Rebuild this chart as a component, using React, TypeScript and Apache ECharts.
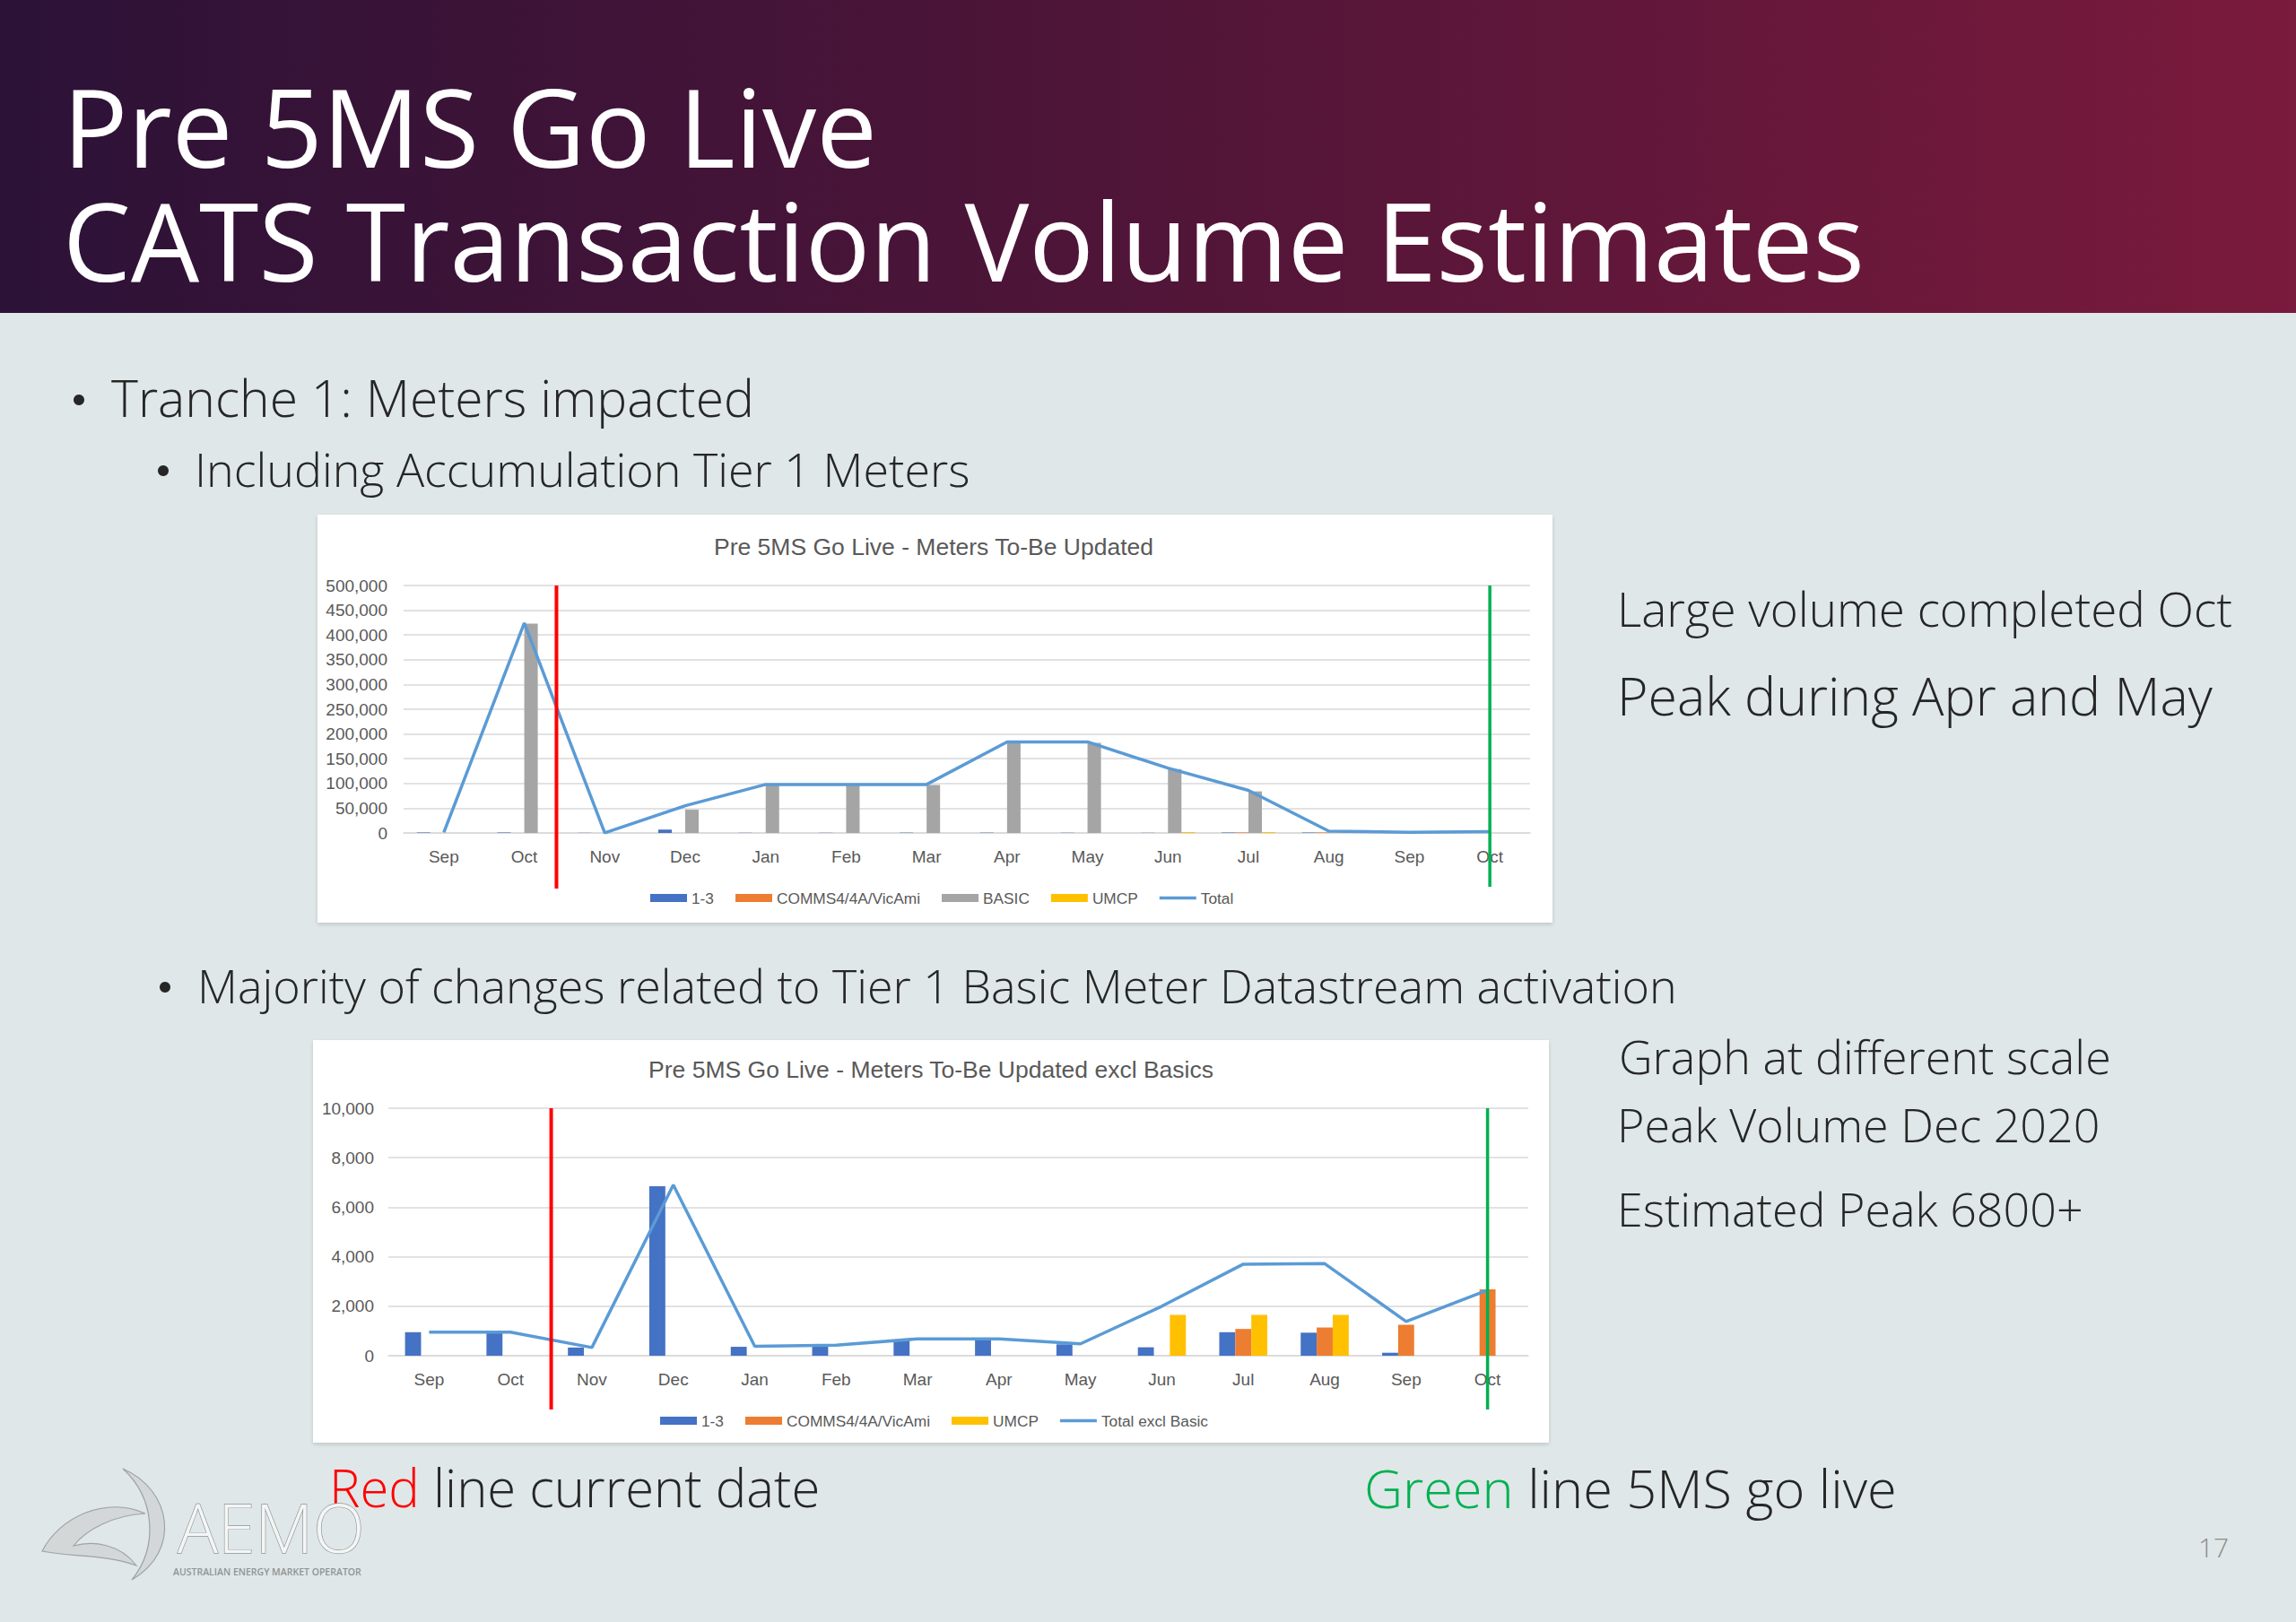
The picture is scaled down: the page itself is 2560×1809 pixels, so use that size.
import React, { useEffect, useRef } from "react";
import * as echarts from "echarts";

// ---------------- data ----------------
const months = ["Sep", "Oct", "Nov", "Dec", "Jan", "Feb", "Mar", "Apr", "May", "Jun", "Jul", "Aug", "Sep", "Oct"];

const tier13 = [950, 950, 330, 6850, 360, 400, 640, 640, 460, 340, 950, 930, 120, 0];
const comms = [0, 0, 0, 0, 0, 0, 0, 0, 0, 0, 1080, 1140, 1250, 2680];
const umcp = [0, 0, 0, 0, 0, 0, 0, 0, 0, 1650, 1650, 1650, 0, 0];
const basic = [0, 423000, 0, 47000, 97000, 97000, 97000, 182000, 182000, 129000, 84000, 0, 0, 0];
const total = [950, 424000, 330, 55000, 98000, 98000, 98000, 184000, 184000, 131000, 86000, 3700, 1400, 2650];
const totalExclBasic = [950, 950, 330, 6900, 380, 430, 680, 680, 480, 2000, 3700, 3720, 1380, 2650];

const y1Min = 0, y1Max = 500000, y1Step = 50000;
const y2Min = 0, y2Max = 10000, y2Step = 2000;

// marker positions (in category units)
const currentDate1 = 1.4;
const currentDate2 = 1.5;
const goLive = 13;

const chart1Title = "Pre 5MS Go Live - Meters To-Be Updated";
const chart2Title = "Pre 5MS Go Live - Meters To-Be Updated excl Basics";
const legend1 = ["1-3", "COMMS4/4A/VicAmi", "BASIC", "UMCP", "Total"];
const legend2 = ["1-3", "COMMS4/4A/VicAmi", "UMCP", "Total excl Basic"];

// ---------------- style ----------------
const W = 2560, H = 1809;
const C13 = "#4472c4", CCOMMS = "#ed7d31", CBASIC = "#a5a5a5", CUMCP = "#ffc000", CTOTAL = "#5b9bd5";
const FF_BODY = '"Open Sans", "Noto Sans", sans-serif';
const FF_CHART = '"Liberation Sans Narrow", "Liberation Sans", Arial, sans-serif';
const TXT = "#262626";
const AX = "#595959";
const GRID = "#d9d9d9";
const LINE_ICON = "path://M0,0L41,0L41,3.5L0,3.5Z";

const fmt = (v: number) => v.toLocaleString("en-US");

function txt(id: string, text: string, x: number, y: number, size: number, extra: any = {}) {
  return {
    type: "text", id, x, y, z: 5,
    style: {
      text, fontSize: size, fontFamily: FF_BODY, fontWeight: 300, fill: TXT,
      align: "left", verticalAlign: "middle", ...extra,
    },
  };
}

function dot(id: string, cx: number, cy: number) {
  return { type: "circle", id, z: 5, shape: { cx, cy, r: 6 }, style: { fill: TXT } };
}

echarts.graphic.registerShape(
  "aemoCrescent",
  echarts.graphic.extendPath("M 137 1638 C 192 1662 202 1730 147 1762 C 176 1726 174 1672 137 1638 Z", {})
);
echarts.graphic.registerShape(
  "aemoWing",
  echarts.graphic.extendPath(
    "M 47 1730 C 66 1692 118 1668 162 1688 C 126 1690 96 1706 82 1724 C 104 1718 134 1722 152 1746 C 116 1733 80 1737 47 1730 Z",
    {}
  )
);

function baseGraphic(): any[] {
  return [
    {
      type: "rect", id: "header", z: -20, shape: { x: 0, y: 0, width: W, height: 349 },
      style: {
        fill: new echarts.graphic.LinearGradient(0, 0, 1, 0, [
          { offset: 0, color: "#2c1237" },
          { offset: 0.5, color: "#501538" },
          { offset: 1, color: "#7a1a3c" },
        ]),
      },
    },
    {
      type: "rect", id: "box1", z: -10, shape: { x: 354, y: 574, width: 1377, height: 455 },
      style: { fill: "#ffffff", shadowColor: "rgba(0,0,0,0.15)", shadowBlur: 4, shadowOffsetY: 2 },
    },
    {
      type: "rect", id: "box2", z: -10, shape: { x: 349, y: 1160, width: 1378, height: 449 },
      style: { fill: "#ffffff", shadowColor: "rgba(0,0,0,0.15)", shadowBlur: 4, shadowOffsetY: 2 },
    },
    txt("title", "Pre 5MS Go Live\nCATS Transaction Volume Estimates", 70, 76, 120.5, {
      fill: "#ffffff", fontWeight: 400, verticalAlign: "top", lineHeight: 127,
    }),
    dot("b1", 88, 446),
    txt("b1t", "Tranche 1: Meters impacted", 124, 443, 57),
    dot("b2", 182, 525),
    txt("b2t", "Including Accumulation Tier 1 Meters", 217, 522, 52),
    dot("b3", 184, 1101),
    txt("b3t", "Majority of changes related to Tier 1 Basic Meter Datastream activation", 220, 1098, 52),
    txt("r1", "Large volume completed Oct", 1803, 678, 53),
    txt("r2", "Peak during Apr and May", 1803, 775, 59),
    txt("r3", "Graph at different scale", 1805, 1177, 52),
    txt("r4", "Peak Volume Dec 2020", 1803, 1253, 52),
    txt("r5", "Estimated Peak 6800+", 1803, 1347, 52),
    {
      type: "text", id: "red", x: 367, y: 1658, z: 5,
      style: {
        text: "{r|Red}{d| line current date}", align: "left", verticalAlign: "middle",
        fontSize: 58, fontFamily: FF_BODY, fontWeight: 300,
        rich: {
          r: { fill: "#ff0000", fontSize: 58, fontFamily: FF_BODY, fontWeight: 300 },
          d: { fill: TXT, fontSize: 58, fontFamily: FF_BODY, fontWeight: 300 },
        },
      },
    },
    {
      type: "text", id: "green", x: 1521, y: 1658, z: 5,
      style: {
        text: "{g|Green}{d| line 5MS go live}", align: "left", verticalAlign: "middle",
        fontSize: 59.5, fontFamily: FF_BODY, fontWeight: 300,
        rich: {
          g: { fill: "#00b050", fontSize: 59.5, fontFamily: FF_BODY, fontWeight: 300 },
          d: { fill: TXT, fontSize: 59.5, fontFamily: FF_BODY, fontWeight: 300 },
        },
      },
    },
    txt("page", "17", 2468, 1725, 30, { align: "center", fill: "#8c8c8c" }),
    // AEMO logo
    {
      type: "aemoCrescent", id: "logoC", x: 0, y: 0, z: 1,
      style: { fill: "#d4d7d8", stroke: "#9ea3a4", lineWidth: 1.2 },
    },
    {
      type: "aemoWing", id: "logoW", x: 0, y: 0, z: 1,
      style: { fill: "#d4d7d8", stroke: "#9ea3a4", lineWidth: 1.2 },
    },
    txt("logoT", "AEMO", 198, 1703, 75, { fill: "#f4f6f6", stroke: "#8f9494", lineWidth: 1.3, lineHeight: 56 }),
    txt("logoS", "AUSTRALIAN ENERGY MARKET OPERATOR", 193, 1753, 10.5, { fill: "#8f9494", fontWeight: 600, lineHeight: 11 }),
    {
      type: "text", id: "c1title", x: 1041, y: 610, z: 5,
      style: { text: chart1Title, fontSize: 26.5, fontFamily: FF_CHART, fill: AX, align: "center", verticalAlign: "middle" },
    },
    {
      type: "text", id: "c2title", x: 1038, y: 1193, z: 5,
      style: { text: chart2Title, fontSize: 26.5, fontFamily: FF_CHART, fill: AX, align: "center", verticalAlign: "middle" },
    },
  ];
}

function xAxisOpt(gridIndex: number) {
  return {
    type: "category", gridIndex, data: months,
    axisLine: { show: true, lineStyle: { color: GRID, width: 1.5 } },
    axisTick: { show: false },
    axisLabel: { color: AX, fontSize: 19, fontFamily: FF_CHART, margin: 17, interval: 0 },
  };
}

function yAxisOpt(gridIndex: number, min: number, max: number, interval: number, margin: number) {
  return {
    type: "value", gridIndex, min, max, interval,
    axisLine: { show: false }, axisTick: { show: false },
    axisLabel: { color: AX, fontSize: 19, fontFamily: FF_CHART, margin, formatter: fmt },
    splitLine: { lineStyle: { color: GRID, width: 1.5 } },
  };
}

function bar(name: string, data: number[], color: string, axis: number, gap: string) {
  return {
    type: "bar", name, data, xAxisIndex: axis, yAxisIndex: axis,
    itemStyle: { color }, barGap: "0%", barCategoryGap: gap,
  };
}

function line(name: string, data: number[], axis: number) {
  return {
    type: "line", name, data, xAxisIndex: axis, yAxisIndex: axis, z: 4,
    symbol: "none", lineStyle: { color: CTOTAL, width: 3.5 }, itemStyle: { color: CTOTAL },
  };
}

function legendData(names: string[], lineName: string) {
  return names.map((n) => (n === lineName ? { name: n, icon: LINE_ICON } : { name: n, icon: "rect" }));
}

export default function App() {
  const ref = useRef<HTMLDivElement>(null);
  useEffect(() => {
    if (!ref.current) return;
    const chart = echarts.init(ref.current, undefined, { renderer: "svg", width: W, height: H });
    const legendText = { color: AX, fontSize: 17.3, fontFamily: FF_CHART };
    const option: any = {
      animation: false,
      backgroundColor: "#dfe7e8",
      grid: [
        { left: 450, top: 653, width: 1256, height: 276 },
        { left: 433, top: 1236, width: 1271, height: 276 },
      ],
      xAxis: [xAxisOpt(0), xAxisOpt(1)],
      yAxis: [yAxisOpt(0, y1Min, y1Max, y1Step, 18), yAxisOpt(1, y2Min, y2Max, y2Step, 16)],
      legend: [
        {
          data: legendData(legend1, "Total"), left: 720, top: 988, itemWidth: 41, itemHeight: 9, itemGap: 24,
          textStyle: legendText, selectedMode: false,
        },
        {
          data: legendData(legend2, "Total excl Basic"), left: 731, top: 1571, itemWidth: 41, itemHeight: 9, itemGap: 24,
          textStyle: legendText, selectedMode: false,
        },
      ],
      series: [
        bar("1-3", tier13, C13, 0, "33%"),
        bar("COMMS4/4A/VicAmi", comms, CCOMMS, 0, "33%"),
        bar("BASIC", basic, CBASIC, 0, "33%"),
        bar("UMCP", umcp, CUMCP, 0, "33%"),
        line("Total", total, 0),
        bar("1-3", tier13, C13, 1, "41%"),
        bar("COMMS4/4A/VicAmi", comms, CCOMMS, 1, "41%"),
        bar("UMCP", umcp, CUMCP, 1, "41%"),
        line("Total excl Basic", totalExclBasic, 1),
      ],
      graphic: baseGraphic(),
    };
    chart.setOption(option);

    const xAt = (axis: number, pos: number) => {
      const i = Math.floor(pos);
      const a = chart.convertToPixel({ xAxisIndex: axis } as any, i) as number;
      if (pos === i) return a;
      const b = chart.convertToPixel({ xAxisIndex: axis } as any, i + 1) as number;
      return a + (pos - i) * (b - a);
    };
    const yAt = (axis: number, v: number) => chart.convertToPixel({ yAxisIndex: axis } as any, v) as number;

    const vline = (id: string, x: number, y1: number, y2: number, color: string, w: number) => ({
      type: "line", id, z: 50, shape: { x1: x, y1, x2: x, y2 }, style: { stroke: color, lineWidth: w },
    });

    const top1 = yAt(0, y1Max), zero1 = yAt(0, y1Min);
    const top2 = yAt(1, y2Max), zero2 = yAt(1, y2Min);
    const extra = [
      vline("red1", xAt(0, currentDate1), top1, zero1 + 62, "#ff0000", 4),
      vline("green1", xAt(0, goLive), top1, zero1 + 60, "#00b050", 3.5),
      vline("red2", xAt(1, currentDate2), top2, zero2 + 60, "#ff0000", 4),
      vline("green2", xAt(1, goLive), top2, zero2 + 60, "#00b050", 3.5),
    ];
    chart.setOption({ graphic: [...baseGraphic(), ...extra] });

    return () => chart.dispose();
  }, []);
  return <div ref={ref} style={{ position: "fixed", left: 0, top: 0, width: W, height: H }} />;
}
